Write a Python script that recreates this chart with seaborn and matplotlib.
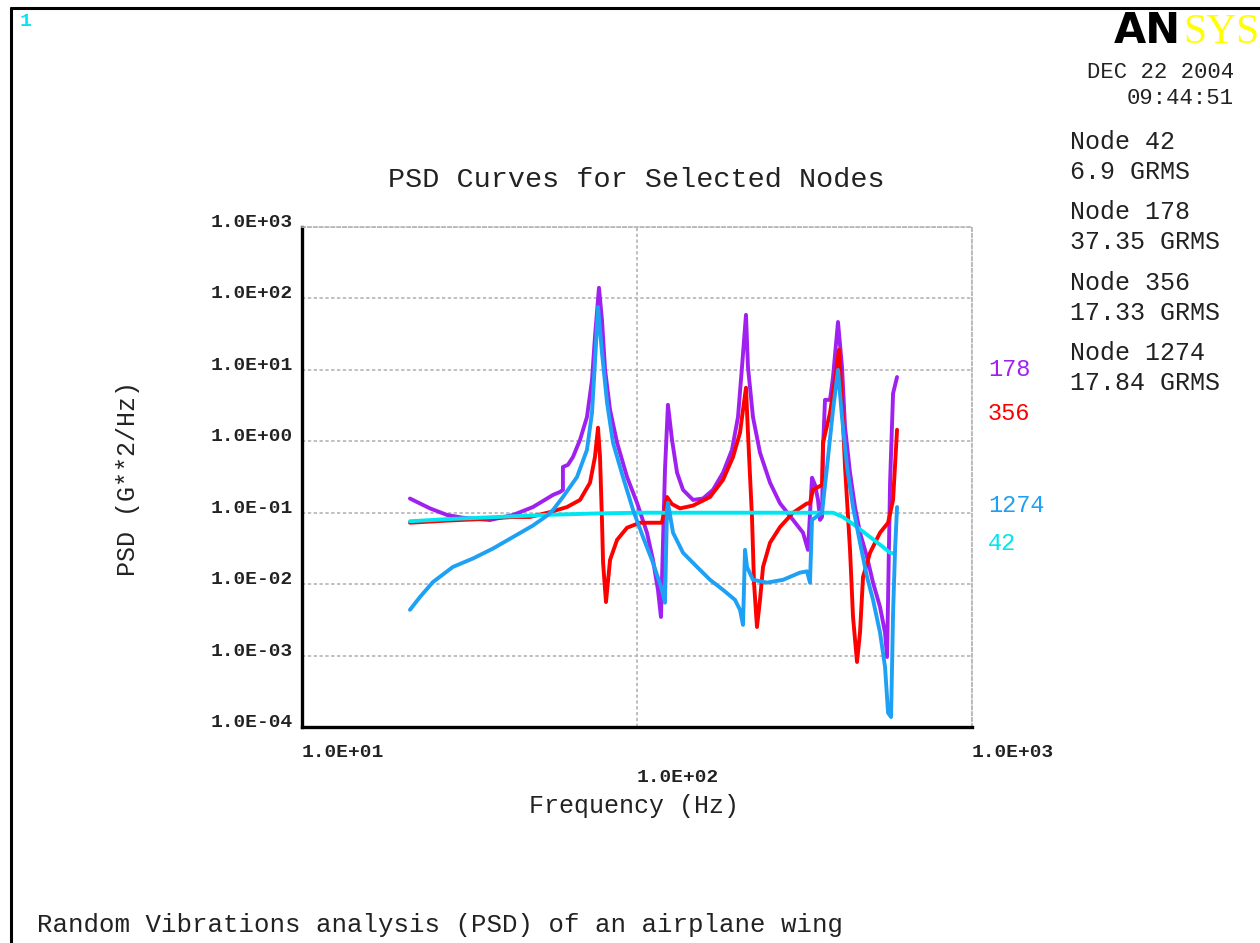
import matplotlib
matplotlib.use("Agg")
import matplotlib.pyplot as plt
from matplotlib.lines import Line2D
from matplotlib.ticker import LogLocator, NullFormatter
import seaborn as sns

# ---------------- data ----------------
freq_178 = [21.0, 24.1, 27.1, 30.2, 36.4, 42.65, 48.9, 56.2, 58.9, 60.1, 60.1, 62.2, 64.4,
            67.6, 70.9, 73.4, 74.9, 77.0, 78.6, 80.3, 83.1, 87.2, 93.4, 100.0, 107.1,
            111.6, 115.5, 117.9, 121.2, 123.7, 127.2, 131.7, 137.2, 147.0, 157.4, 168.6,
            180.6, 192.1, 200.2, 205.8, 211.5, 214.4, 221.9, 232.9, 249.5, 267.3, 292.2,
            313.0, 323.9, 333.0, 339.9, 347.0, 351.8, 356.7, 359.2, 364.1, 376.9, 384.7,
            398.1, 409.2, 417.8, 432.4, 447.5, 463.1, 486.0, 506.5, 531.5, 550.1, 557.7,
            569.4, 581.3, 597.4]
psd_178 = [0.158, 0.115, 0.093, 0.085, 0.079, 0.093, 0.120, 0.178, 0.195, 0.209, 0.437,
           0.468, 0.603, 1.05, 2.19, 7.24, 28.8, 141.0, 50.1, 10.0, 2.75, 0.955, 0.316,
           0.138, 0.0525, 0.0219, 0.0083, 0.00347, 0.398, 3.24, 1.05, 0.363, 0.209, 0.151,
           0.158, 0.209, 0.363, 0.759, 2.19, 11.0, 58.9, 11.0, 2.19, 0.692, 0.263, 0.135,
           0.0794, 0.0525, 0.0302, 0.309, 0.245, 0.151, 0.0794, 0.0871, 0.832, 3.80, 3.80,
           7.94, 46.8, 11.0, 1.58, 0.363, 0.120, 0.0525, 0.0240, 0.0105, 0.00479, 0.00209,
           0.000955, 0.263, 4.68, 7.94]

freq_356 = [21.0, 27.1, 34.0, 42.65, 47.9, 55.0, 61.8, 67.6, 72.4, 74.9, 76.5, 77.55,
            78.6, 79.2, 80.8, 83.1, 87.2, 93.4, 102.1, 118.7, 122.9, 127.2, 134.4, 147.0,
            165.2, 180.6, 193.5, 203.0, 207.2, 211.5, 214.4, 220.4, 223.5, 228.1, 232.9,
            237.8, 249.5, 267.3, 292.2, 321.7, 328.4, 335.3, 356.7, 359.2, 376.9, 390.0,
            400.9, 409.2, 417.8, 432.4, 441.4, 453.7, 463.1, 472.8, 496.2, 531.5, 561.6,
            581.3, 597.4]
psd_356 = [0.0724, 0.0776, 0.0813, 0.0871, 0.0871, 0.102, 0.120, 0.151, 0.263, 0.603,
           1.55, 0.603, 0.0794, 0.0200, 0.00562, 0.0219, 0.0417, 0.0617, 0.0724, 0.0724,
           0.166, 0.132, 0.115, 0.126, 0.166, 0.288, 0.603, 1.32, 2.75, 5.62, 1.32, 0.0871,
           0.0105, 0.00251, 0.00603, 0.0174, 0.0380, 0.0631, 0.100, 0.135, 0.135, 0.209,
           0.245, 0.955, 2.51, 7.24, 19.1, 3.80, 0.437, 0.0302, 0.00347, 0.000813, 0.00209,
           0.0126, 0.0275, 0.0525, 0.0724, 0.151, 1.45]

freq_1274 = [21.0, 22.5, 24.6, 28.2, 32.4, 37.2, 42.65, 48.9, 53.9, 56.2, 60.1, 66.2,
             70.9, 73.4, 74.9, 76.5, 78.6, 81.4, 84.8, 90.8, 97.3, 104.2, 111.6, 118.7,
             121.2, 122.9, 123.7, 128.1, 137.2, 151.1, 165.2, 180.6, 196.1, 203.0, 207.2,
             210.1, 213.0, 221.9, 244.4, 272.9, 306.6, 321.7, 328.4, 333.0, 344.6, 356.7,
             369.2, 384.7, 398.1, 409.2, 423.6, 441.4, 463.1, 486.0, 506.5, 531.5, 550.1,
             561.6, 573.3, 581.3, 589.3, 597.4]
psd_1274 = [0.00437, 0.00661, 0.0107, 0.0174, 0.0229, 0.0316, 0.0457, 0.0661, 0.0912,
            0.110, 0.166, 0.316, 0.759, 2.51, 12.6, 75.9, 17.4, 3.47, 0.955, 0.316, 0.110,
            0.0457, 0.0200, 0.00832, 0.00550, 0.110, 0.138, 0.0525, 0.0275, 0.0174, 0.0115,
            0.00832, 0.00603, 0.00437, 0.00269, 0.0302, 0.0174, 0.0115, 0.0105, 0.0115,
            0.0145, 0.0151, 0.0105, 0.0794, 0.0891, 0.100, 0.437, 2.75, 10.0, 2.19, 0.437,
            0.120, 0.0380, 0.0126, 0.00603, 0.00209, 0.000692, 0.000158, 0.000138, 0.00398,
            0.0302, 0.120]

freq_42 = [21.0, 27.1, 38.2, 53.9, 76.0, 102.1, 384.7, 412.0, 453.7, 496.2, 542.6, 569.4,
           581.3]
psd_42 = [0.0759, 0.0813, 0.0871, 0.0933, 0.0977, 0.100, 0.100, 0.0871, 0.0631, 0.0457,
          0.0331, 0.0275, 0.0270]

node_ids = ["178", "356", "42", "1274"]
grms_nodes = ["42", "178", "356", "1274"]
grms_values = ["6.9", "37.35", "17.33", "17.84"]
x_ticks = [10, 100, 1000]
x_tick_labels = ["1.0E+01", "1.0E+02", "1.0E+03"]
y_ticks = [1e-4, 1e-3, 1e-2, 1e-1, 1e0, 1e1, 1e2, 1e3]
y_tick_labels = ["1.0E-04", "1.0E-03", "1.0E-02", "1.0E-01", "1.0E+00", "1.0E+01",
                 "1.0E+02", "1.0E+03"]

# ---------------- styling ----------------
sns.set_style("white")
MONO = ["Liberation Mono", "DejaVu Sans Mono"]
plt.rcParams["font.family"] = MONO

W, H = 1260, 943
colors = {"178": "#A020F0", "356": "#FF0000", "42": "#00E6F0", "1274": "#1EA0F5"}
series = {"178": (freq_178, psd_178), "356": (freq_356, psd_356),
          "42": (freq_42, psd_42), "1274": (freq_1274, psd_1274)}

fig = plt.figure(figsize=(W / 100, H / 100), dpi=100)
fig.patch.set_facecolor("white")


def fx(px):
    return px / W


def fy(py):
    return 1 - py / H


ax = fig.add_axes([fx(302), fy(727), (972 - 302) / W, (727 - 227) / H])

for nid in node_ids:
    f, p = series[nid]
    sns.lineplot(x=f, y=p, ax=ax, sort=False, estimator=None, color=colors[nid],
                 lw=2.8, zorder=3)

ax.set_xscale("log")
ax.set_yscale("log")
ax.set_xlim(10, 1000)
ax.set_ylim(1e-4, 1e3)

ax.set_xticks(x_ticks)
ax.set_xticklabels(x_tick_labels, fontsize=14, fontweight="bold", color="#222222")
ax.set_yticks(y_ticks)
ax.set_yticklabels(y_tick_labels, fontsize=14, fontweight="bold", color="#222222")
ax.xaxis.set_minor_locator(LogLocator(base=10, subs=(2, 4, 6, 8)))
ax.yaxis.set_minor_locator(LogLocator(base=10, subs=(2, 4, 6, 8)))
ax.xaxis.set_minor_formatter(NullFormatter())
ax.yaxis.set_minor_formatter(NullFormatter())

ax.tick_params(axis="both", which="major", length=0)
ax.tick_params(axis="both", which="minor", length=2.5, width=1.2, color="#999999",
               direction="out")
ax.tick_params(axis="x", which="major", pad=12)
ax.tick_params(axis="y", which="major", pad=6.5)
for lab in ax.get_xticklabels():
    lab.set_ha("left")
for lab in ax.get_yticklabels():
    lab.set_va("baseline")
ax.xaxis.get_major_ticks()[1].set_pad(30)

ax.grid(True, which="major", color="#b4b4b4", lw=1.2, ls=(0, (2, 1.5)))
ax.set_axisbelow(True)
for s in ["left", "bottom"]:
    ax.spines[s].set_color("black")
    ax.spines[s].set_linewidth(2.4)
for s in ["top", "right"]:
    ax.spines[s].set_color("#b4b4b4")
    ax.spines[s].set_linewidth(1.2)
    ax.spines[s].set_linestyle((0, (2, 1.5)))

ax.set_xlabel("")
ax.set_ylabel("")

# ---------------- texts ----------------
fig.text(fx(636), fy(180), "PSD Curves for Selected Nodes", fontsize=20.5,
         ha="center", va="center", color="#222222")
fig.text(fx(634), fy(806), "Frequency (Hz)", fontsize=18, ha="center", va="center",
         color="#222222")
fig.text(fx(128), fy(478), "PSD (G**2/Hz)", fontsize=18, ha="center", va="center",
         rotation=90, color="#222222")
fig.text(fx(37), fy(925), "Random Vibrations analysis (PSD) of an airplane wing",
         fontsize=18.5, ha="left", va="center", color="#222222")

fig.text(fx(20), fy(22), "1", fontsize=14, fontweight="bold", color="#00E6F0",
         ha="left", va="center")
fig.text(fx(1114), fy(43), "AN", fontsize=30, fontweight="bold", family="DejaVu Sans",
         color="black", ha="left", va="baseline")
fig.text(fx(1183), fy(43), "SYS", fontsize=30, family="Liberation Serif",
         color="#FFFF00", ha="left", va="baseline")
fig.text(fx(1234), fy(72), "DEC 22 2004", fontsize=16, ha="right", va="center",
         color="#222222")
fig.text(fx(1234), fy(98), "09:44:51", fontsize=16, ha="right", va="center",
         color="#222222")

node_y = [142, 212, 283, 353]
for nid, val, yy in zip(grms_nodes, grms_values, node_y):
    fig.text(fx(1070), fy(yy), f"Node {nid}", fontsize=18, ha="left", va="center",
             color="#222222")
    fig.text(fx(1070), fy(yy + 30), f"{val} GRMS", fontsize=18, ha="left", va="center",
             color="#222222")

label_y = {"178": 369, "356": 413, "1274": 505, "42": 543}
for nid in ["178", "356", "1274", "42"]:
    fig.text(fx(988), fy(label_y[nid]), nid, fontsize=17, ha="left", va="center",
             color=colors[nid])

# window frame
fig.add_artist(Line2D([fx(11), fx(11)], [fy(8), 0], transform=fig.transFigure,
                      color="black", lw=2.2))
fig.add_artist(Line2D([fx(11), 1], [fy(8), fy(8)], transform=fig.transFigure,
                      color="black", lw=2.2))

fig.savefig("out.png", dpi=100)
